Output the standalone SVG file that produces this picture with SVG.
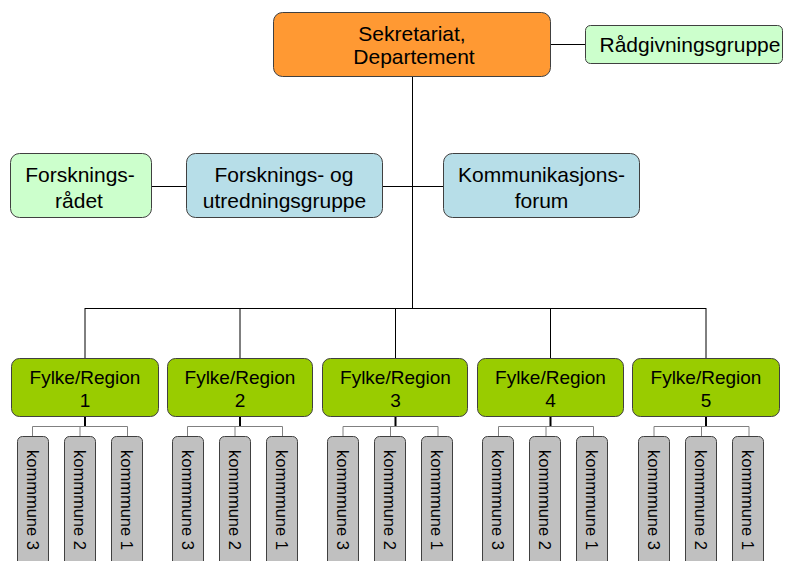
<svg xmlns="http://www.w3.org/2000/svg" width="790" height="561" viewBox="0 0 790 561">
<style>
  .box{stroke:#404040;stroke-width:1}
  .org{fill:#FF9933}
  .lg{fill:#CCFFCC}
  .bl{fill:#B7DEE8}
  .gr{fill:#99CC00}
  .km{fill:#C0C0C0}
  text{font-family:"Liberation Sans",Arial,sans-serif;fill:#000}
  .t21{font-size:21px;text-anchor:middle}
  .t19{font-size:19px;text-anchor:middle}
  .tk{font-size:16.5px}
  .ln{stroke:#000;stroke-width:1;fill:none}
  .sub{stroke:#808080;stroke-width:1;fill:none}
  .drop{stroke:#000;stroke-width:2;fill:none}
</style>
<rect width="790" height="561" fill="#FFFFFF"/>
<g id="connectors">
  <path class="ln" d="M412.5 77 V308.5 M85 308.5 H706 M85 308 V358 M240 308 V358 M395.5 308 V358 M550.5 308 V358 M706 308 V358"/>
  <path class="ln" d="M551 44.5 H585"/>
  <path class="ln" d="M152 186.5 H186 M383 186.5 H443"/>
  <path class="drop" d="M85 417 V427 M240 417 V427 M395.5 417 V427 M550.5 417 V427 M706 417 V427"/>
  <path class="sub" d="M32.5 436 V426.5 H127.5 V436 M80 426.5 V436"/>
  <path class="sub" d="M187.5 436 V426.5 H282.5 V436 M235 426.5 V436"/>
  <path class="sub" d="M343 436 V426.5 H438 V436 M390.5 426.5 V436"/>
  <path class="sub" d="M498.5 436 V426.5 H593.5 V436 M546 426.5 V436"/>
  <path class="sub" d="M654 436 V426.5 H749 V436 M701.5 426.5 V436"/>
</g>
<g id="sekretariat">
  <rect class="box org" x="273.5" y="12.5" width="277" height="64" rx="9"/>
  <text class="t21" x="412" y="41">Sekretariat,</text>
  <text class="t21" x="414" y="64">Departement</text>
</g>
<g id="radgivningsgruppe">
  <rect class="box lg" x="585.5" y="25.5" width="197" height="38" rx="5"/>
  <text class="t21" x="690" y="52">Rådgivningsgruppe</text>
</g>
<g id="forskningsradet">
  <rect class="box lg" x="10.5" y="153.5" width="141" height="64" rx="9"/>
  <text class="t21" x="80" y="182">Forsknings-</text>
  <text class="t21" x="79" y="208">rådet</text>
</g>
<g id="forskningsgruppe">
  <rect class="box bl" x="186.5" y="153.5" width="196" height="64" rx="9"/>
  <text class="t21" x="284" y="182">Forsknings- og</text>
  <text class="t21" x="284.5" y="208">utredningsgruppe</text>
</g>
<g id="kommunikasjonsforum">
  <rect class="box bl" x="443.5" y="153.5" width="196" height="64" rx="9"/>
  <text class="t21" x="541.5" y="182">Kommunikasjons-</text>
  <text class="t21" x="541.5" y="208">forum</text>
</g>
<g id="fylke1">
  <rect class="box gr" x="11.5" y="358.5" width="147" height="58" rx="8"/>
  <text class="t19" x="85" y="383.5">Fylke/Region</text>
  <text class="t19" x="85" y="406.5">1</text>
</g>
<g id="fylke2">
  <rect class="box gr" x="167.5" y="358.5" width="145" height="58" rx="8"/>
  <text class="t19" x="240" y="383.5">Fylke/Region</text>
  <text class="t19" x="240" y="406.5">2</text>
</g>
<g id="fylke3">
  <rect class="box gr" x="322.5" y="358.5" width="145" height="58" rx="8"/>
  <text class="t19" x="395.5" y="383.5">Fylke/Region</text>
  <text class="t19" x="395.5" y="406.5">3</text>
</g>
<g id="fylke4">
  <rect class="box gr" x="477.5" y="358.5" width="146" height="58" rx="8"/>
  <text class="t19" x="550.5" y="383.5">Fylke/Region</text>
  <text class="t19" x="550.5" y="406.5">4</text>
</g>
<g id="fylke5">
  <rect class="box gr" x="632.5" y="358.5" width="147" height="58" rx="8"/>
  <text class="t19" x="706" y="383.5">Fylke/Region</text>
  <text class="t19" x="706" y="406.5">5</text>
</g>
<g id="r1k3"><rect class="box km" x="17.5" y="436.5" width="31" height="140" rx="5"/><text class="tk" x="27" y="450" transform="rotate(90 27 450)">kommmune 3</text></g>
<g id="r1k2"><rect class="box km" x="64.5" y="436.5" width="31" height="140" rx="5"/><text class="tk" x="74" y="450" transform="rotate(90 74 450)">kommmune 2</text></g>
<g id="r1k1"><rect class="box km" x="111.5" y="436.5" width="31" height="140" rx="5"/><text class="tk" x="121" y="450" transform="rotate(90 121 450)">kommmune 1</text></g>
<g id="r2k3"><rect class="box km" x="172.5" y="436.5" width="31" height="140" rx="5"/><text class="tk" x="182" y="450" transform="rotate(90 182 450)">kommmune 3</text></g>
<g id="r2k2"><rect class="box km" x="219.5" y="436.5" width="31" height="140" rx="5"/><text class="tk" x="229" y="450" transform="rotate(90 229 450)">kommmune 2</text></g>
<g id="r2k1"><rect class="box km" x="266.5" y="436.5" width="31" height="140" rx="5"/><text class="tk" x="276" y="450" transform="rotate(90 276 450)">kommmune 1</text></g>
<g id="r3k3"><rect class="box km" x="327.5" y="436.5" width="31" height="140" rx="5"/><text class="tk" x="337" y="450" transform="rotate(90 337 450)">kommmune 3</text></g>
<g id="r3k2"><rect class="box km" x="374.5" y="436.5" width="31" height="140" rx="5"/><text class="tk" x="384" y="450" transform="rotate(90 384 450)">kommmune 2</text></g>
<g id="r3k1"><rect class="box km" x="421.5" y="436.5" width="31" height="140" rx="5"/><text class="tk" x="431" y="450" transform="rotate(90 431 450)">kommmune 1</text></g>
<g id="r4k3"><rect class="box km" x="482.5" y="436.5" width="31" height="140" rx="5"/><text class="tk" x="492" y="450" transform="rotate(90 492 450)">kommmune 3</text></g>
<g id="r4k2"><rect class="box km" x="529.5" y="436.5" width="31" height="140" rx="5"/><text class="tk" x="539" y="450" transform="rotate(90 539 450)">kommmune 2</text></g>
<g id="r4k1"><rect class="box km" x="576.5" y="436.5" width="31" height="140" rx="5"/><text class="tk" x="586" y="450" transform="rotate(90 586 450)">kommmune 1</text></g>
<g id="r5k3"><rect class="box km" x="638.5" y="436.5" width="31" height="140" rx="5"/><text class="tk" x="648" y="450" transform="rotate(90 648 450)">kommmune 3</text></g>
<g id="r5k2"><rect class="box km" x="685.5" y="436.5" width="31" height="140" rx="5"/><text class="tk" x="695" y="450" transform="rotate(90 695 450)">kommmune 2</text></g>
<g id="r5k1"><rect class="box km" x="732.5" y="436.5" width="31" height="140" rx="5"/><text class="tk" x="742" y="450" transform="rotate(90 742 450)">kommmune 1</text></g>
</svg>
